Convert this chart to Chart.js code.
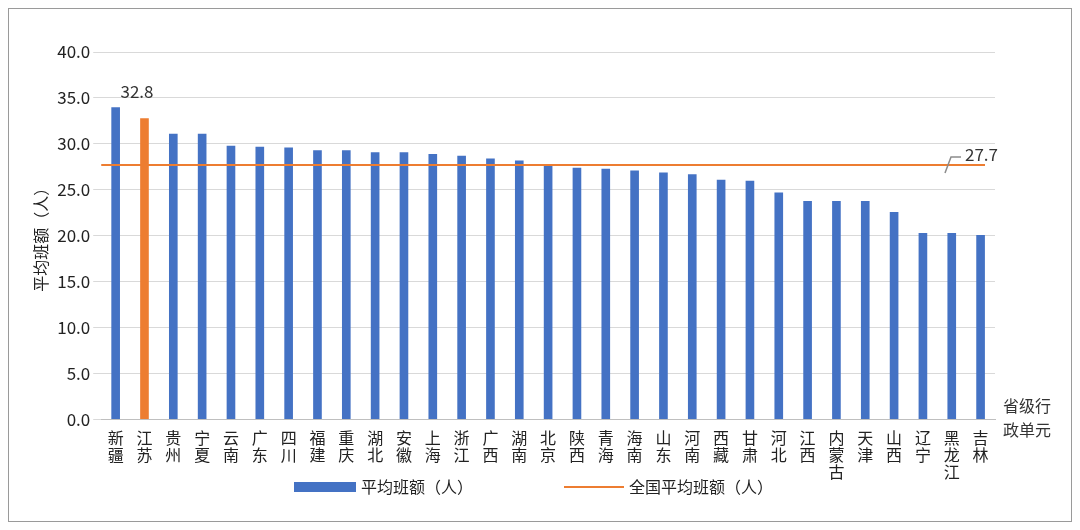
<!DOCTYPE html>
<html>
<head>
<meta charset="utf-8">
<script src="https://cdn.jsdelivr.net/npm/chart.js@4/dist/chart.umd.min.js"></script>
<style>
  html, body { margin: 0; padding: 0; background: #fff; }
  #wrap { position: absolute; left: 8px; top: 8px; width: 1062px; height: 512px; border: 1px solid #9a9a9a; }
  canvas { display: block; }
</style>
</head>
<body>
<div id="wrap"><canvas id="c" width="1062" height="512"></canvas></div>
<script>
  const provinces = ['新疆', '江苏', '贵州', '宁夏', '云南', '广东', '四川', '福建', '重庆', '湖北', '安徽',
    '上海', '浙江', '广西', '湖南', '北京', '陕西', '青海', '海南', '山东', '河南', '西藏', '甘肃', '河北',
    '江西', '内蒙古', '天津', '山西', '辽宁', '黑龙江', '吉林'];
  const classSize = [34.0, 32.8, 31.1, 31.1, 29.8, 29.7, 29.6, 29.3, 29.3, 29.1, 29.1,
    28.9, 28.7, 28.4, 28.2, 27.8, 27.4, 27.3, 27.1, 26.9, 26.7, 26.1, 26.0, 24.7,
    23.8, 23.8, 23.8, 22.6, 20.3, 20.3, 20.1];
  const nationalAvg = 27.7;
  const highlight = '江苏';
  const FONT = '"Noto Sans CJK SC", "Noto Sans", sans-serif';

  const barColors = provinces.map(function (p) { return p === highlight ? '#ed7d31' : '#4472c4'; });

  const extras = {
    id: 'extras',
    afterDraw: function (chart) {
      const ctx = chart.ctx;
      const x = chart.scales.x, y = chart.scales.y;
      const area = chart.chartArea;
      ctx.save();
      // national average line
      const ya = y.getPixelForValue(nationalAvg);
      ctx.strokeStyle = '#ed7d31';
      ctx.lineWidth = 2;
      ctx.beginPath();
      ctx.moveTo(area.left, ya);
      ctx.lineTo(area.right - 10, ya);
      ctx.stroke();
      // leader + label for avg
      ctx.strokeStyle = '#8c8c8c';
      ctx.lineWidth = 1.5;
      ctx.beginPath();
      ctx.moveTo(area.right - 50, ya + 8);
      ctx.lineTo(area.right - 44, ya - 8);
      ctx.lineTo(area.right - 34, ya - 8);
      ctx.stroke();
      ctx.fillStyle = '#333';
      ctx.font = '17px ' + FONT;
      ctx.textAlign = 'left';
      ctx.textBaseline = 'middle';
      ctx.fillText(nationalAvg.toFixed(1), area.right - 30, ya - 10);
      // highlight label
      const i = provinces.indexOf(highlight);
      ctx.textBaseline = 'bottom';
      ctx.fillText(classSize[i].toFixed(1), x.getPixelForValue(i) - 24, y.getPixelForValue(classSize[i]) - 18);
      // x-axis title
      ctx.font = '16px ' + FONT;
      ctx.textBaseline = 'top';
      ctx.fillText('省级行', area.right + 8, area.bottom - 22);
      ctx.fillText('政单元', area.right + 8, area.bottom + 2);
      // legend
      const ly = 478;
      ctx.fillStyle = '#4472c4';
      ctx.fillRect(285, ly - 5, 62, 10);
      ctx.fillStyle = '#222';
      ctx.textBaseline = 'middle';
      ctx.font = '16px ' + FONT;
      ctx.fillText('平均班额（人）', 352, ly);
      ctx.strokeStyle = '#ed7d31';
      ctx.lineWidth = 2;
      ctx.beginPath();
      ctx.moveTo(555, ly);
      ctx.lineTo(615, ly);
      ctx.stroke();
      ctx.fillText('全国平均班额（人）', 620, ly);
      ctx.restore();
    }
  };

  new Chart(document.getElementById('c'), {
    type: 'bar',
    data: {
      labels: provinces.map(function (p) { return p.split(''); }),
      datasets: [{ label: '平均班额（人）', data: classSize, backgroundColor: barColors, barPercentage: 0.3, categoryPercentage: 1 }]
    },
    options: {
      responsive: false,
      animation: false,
      layout: { padding: { left: 18, right: 76, top: 43, bottom: 39 } },
      plugins: { legend: { display: false }, tooltip: { enabled: false } },
      scales: {
        x: {
          grid: { display: false },
          border: { color: '#bfbfbf' },
          ticks: { color: '#222', font: { size: 16, family: FONT, lineHeight: 1.05 }, maxRotation: 0, autoSkip: false, padding: 2 }
        },
        y: {
          min: 0, max: 40,
          ticks: { stepSize: 5, color: '#222', font: { size: 17, family: FONT }, callback: function (v) { return v.toFixed(1); } },
          grid: { color: '#d9d9d9' },
          border: { display: false },
          title: { display: true, text: '平均班额（人）', color: '#222', font: { size: 16, family: FONT } }
        }
      }
    },
    plugins: [extras]
  });
</script>
</body>
</html>
